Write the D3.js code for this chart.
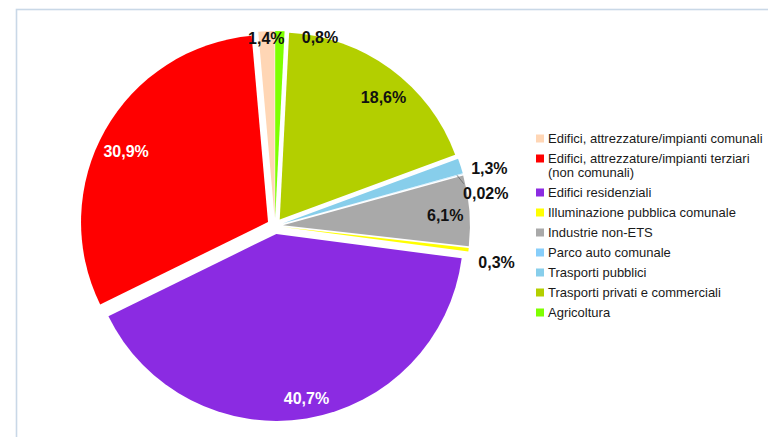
<!DOCTYPE html>
<html>
<head>
<meta charset="utf-8">
<script src="https://cdn.jsdelivr.net/npm/d3@7"></script>
<style>
  html, body { margin: 0; padding: 0; background: #fff; }
  svg { display: block; font-family: "Liberation Sans", Arial, sans-serif; }
</style>
</head>
<body>
<svg id="chart" width="768" height="437"></svg>
<script>
// ---- data ----
const categories = [
  "Edifici, attrezzature/impianti comunali",
  "Edifici, attrezzature/impianti terziari (non comunali)",
  "Edifici residenziali",
  "Illuminazione pubblica comunale",
  "Industrie non-ETS",
  "Parco auto comunale",
  "Trasporti pubblici",
  "Trasporti privati e commerciali",
  "Agricoltura"
];
const values = [1.4, 30.9, 40.7, 0.3, 6.1, 0.02, 1.3, 18.6, 0.8];
const valueLabels = ["1,4%", "30,9%", "40,7%", "0,3%", "6,1%", "0,02%", "1,3%", "18,6%", "0,8%"];
const colors = ["#ffd6b5", "#ff0000", "#8b2be2", "#ffff00", "#a9a9a9", "#87cefa", "#87ceeb", "#b3cf00", "#7fff00"];

// ---- layout (not data) ----
const cx = 275, cy = 226, R = 187, explode = 8;
const insideLabel = [false, true, true, false, true, false, false, true, false];
const labelColor = ["#111", "#fff", "#fff", "#111", "#111", "#111", "#111", "#111", "#111"];
// nudges for labels [dx, dy]
const labelNudge = {
  0: [0, 11],
  1: [-1, 9],
  2: [4, 5],
  3: [24, 12],
  4: [1, 3],
  5: [19, 21],
  6: [25, 3],
  7: [8, 8],
  8: [40, 10]
};

const svg = d3.select("#chart");

// frame
svg.append("rect")
  .attr("x", 16.5).attr("y", 9.5)
  .attr("width", 800).attr("height", 500)
  .attr("fill", "none")
  .attr("stroke", "#c9d8e7")
  .attr("stroke-width", 1.6);

const data = categories.map((c, i) => ({ name: c, value: values[i], i }));

const pie = d3.pie()
  .value(d => d.value)
  .sort(null)
  .startAngle(0)
  .endAngle(-2 * Math.PI);

const arcs = pie(data);
const arc = d3.arc().innerRadius(0).outerRadius(R);

const mid = a => (a.startAngle + a.endAngle) / 2;
const dir = a => [Math.sin(mid(a)), -Math.cos(mid(a))];

const g = svg.append("g").attr("transform", `translate(${cx},${cy})`);

g.selectAll("path.slice")
  .data(arcs)
  .join("path")
  .attr("class", "slice")
  .attr("d", arc)
  .attr("fill", (d, i) => colors[i])
  .attr("transform", d => {
    const [x, y] = dir(d);
    return `translate(${x * explode},${y * explode})`;
  });

// labels
arcs.forEach((a, i) => {
  const [ux, uy] = dir(a);
  const rr = insideLabel[i] ? R * 0.865 + explode : R + explode + 4;
  const n = labelNudge[i] || [0, 0];
  const x = ux * rr + n[0], y = uy * rr + n[1];
  if (i === 5) {
    // leader line for the tiny slice
    const r0 = R + explode - 6;
    g.append("line")
      .attr("x1", ux * r0).attr("y1", uy * r0)
      .attr("x2", x - 22).attr("y2", y - 10)
      .attr("stroke", "#777").attr("stroke-width", 1);
  }
  g.append("text")
    .attr("x", x).attr("y", y)
    .attr("dy", "0.36em")
    .attr("text-anchor", "middle")
    .attr("font-size", 16)
    .attr("font-weight", "bold")
    .attr("fill", labelColor[i])
    .text(valueLabels[i]);
});

// legend
const lx = 536, ly0 = 138.5, rowH = 20, lineH = 14;
let yCur = ly0;
categories.forEach((c, i) => {
  const parts = c.includes(" (") ? [c.slice(0, c.indexOf(" (")), c.slice(c.indexOf(" (") + 1)] : [c];
  svg.append("rect")
    .attr("x", lx).attr("y", yCur - 4)
    .attr("width", 8).attr("height", 8)
    .attr("fill", colors[i]);
  const t = svg.append("text")
    .attr("x", lx + 12).attr("y", yCur)
    .attr("font-size", 13)
    .attr("fill", "#1a1a1a");
  parts.forEach((p, k) => {
    t.append("tspan")
      .attr("x", lx + 12)
      .attr("dy", k === 0 ? "0.35em" : lineH)
      .text(p);
  });
  yCur += rowH + (parts.length - 1) * lineH;
});
</script>
</body>
</html>
